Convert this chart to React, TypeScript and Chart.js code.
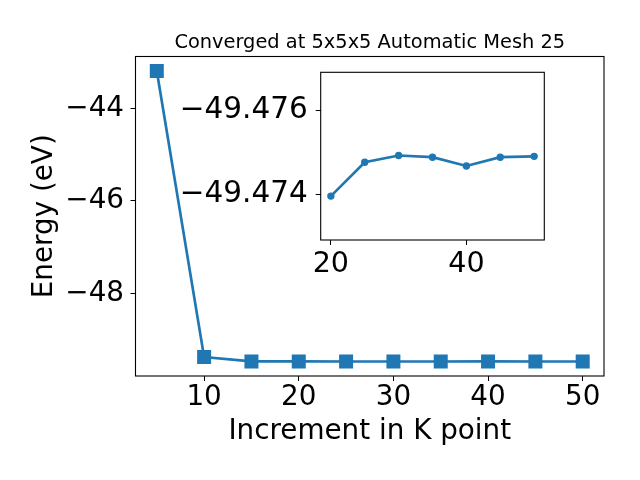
import { useEffect, useRef } from 'react';
import { Chart, registerables } from 'chart.js';

Chart.register(...registerables);

const kPoints = [5, 10, 15, 20, 25, 30, 35, 40, 45, 50];
const energies = [-43.19, -49.38, -49.4745, -49.47396, -49.47477, -49.47493, -49.47489, -49.47468, -49.47489, -49.47491];
const insetK = [20, 25, 30, 35, 40, 45, 50];
const insetEnergies = [-49.47396, -49.47477, -49.47493, -49.47489, -49.47468, -49.47489, -49.47491];
const mainXTicks = [10, 20, 30, 40, 50];
const mainYTicks = [-44, -46, -48];
const insetXTicks = [20, 40];
const insetYTicks = [-49.476, -49.474];
const titleText = 'Converged at 5x5x5 Automatic Mesh 25';
const xLabel = 'Increment in K point';
const yLabel = 'Energy (eV)';

const FONT = 'DejaVu Sans';
const BLUE = '#1f77b4';

const fmt = (v: number, d: number) => (v < 0 ? '\u2212' : '') + Math.abs(v).toFixed(d);

const framePlugin = {
  id: 'frame',
  beforeDatasetsDraw(chart: any) {
    const { ctx, chartArea: a } = chart;
    ctx.save();
    ctx.strokeStyle = '#000';
    ctx.lineWidth = 1.1;
    ctx.strokeRect(a.left, a.top, a.right - a.left, a.bottom - a.top);
    ctx.restore();
  },
};

const bgPlugin = {
  id: 'insetbg',
  beforeDraw(chart: any) {
    const { ctx, chartArea: a } = chart;
    ctx.save();
    ctx.fillStyle = '#fff';
    ctx.fillRect(a.left, a.top, a.right - a.left, a.bottom - a.top);
    ctx.restore();
  },
};

const titlePlugin = {
  id: 'mtitle',
  afterDraw(chart: any) {
    const { ctx, chartArea: a } = chart;
    ctx.save();
    ctx.fillStyle = '#000';
    ctx.font = `19.4px "${FONT}"`;
    ctx.textAlign = 'center';
    ctx.textBaseline = 'alphabetic';
    ctx.fillText(titleText, (a.left + a.right) / 2, 48.3);
    ctx.restore();
  },
};

const whiteBg = {
  id: 'whitebg',
  beforeDraw(chart: any) {
    const { ctx, width, height } = chart;
    ctx.save();
    ctx.fillStyle = '#fff';
    ctx.fillRect(0, 0, width, height);
    ctx.restore();
  },
};

export default function App() {
  const mainRef = useRef<HTMLCanvasElement>(null);
  const insetRef = useRef<HTMLCanvasElement>(null);

  useEffect(() => {
    document.body.style.margin = '0';
    const tickFont = { family: FONT, size: 27.8, lineHeight: 1 };
    const insetYFont = { family: FONT, size: 29.5, lineHeight: 1 };
    const insetXFont = { family: FONT, size: 28.6, lineHeight: 1 };
    const gridOpts = {
      display: true,
      drawOnChartArea: false,
      drawTicks: true,
      tickLength: 5,
      tickWidth: 1,
      tickColor: '#000',
      color: '#000',
    };

    const main = new Chart(mainRef.current!, {
      type: 'line',
      data: {
        datasets: [
          {
            data: kPoints.map((k, i) => ({ x: k, y: energies[i] })),
            borderColor: BLUE,
            backgroundColor: BLUE,
            borderWidth: 2.7,
            pointStyle: 'rect',
            pointRadius: 9.9,
            pointBorderWidth: 0,
            pointBackgroundColor: BLUE,
            tension: 0,
          },
        ],
      },
      options: {
        animation: false,
        responsive: false,
        devicePixelRatio: 1,
        layout: { padding: { top: 56.5, right: 36, bottom: 0, left: 0 } },
        plugins: { legend: { display: false }, tooltip: { enabled: false }, title: { display: false } },
        scales: {
          x: {
            type: 'linear',
            min: 2.75,
            max: 52.25,
            grid: gridOpts,
            border: { display: false },
            afterBuildTicks: (s: any) => { s.ticks = mainXTicks.map((v) => ({ value: v })); },
            afterFit: (s: any) => { s.height = 104; },
            ticks: { color: '#000', font: tickFont, padding: 2.8, maxRotation: 0, callback: (v: any) => fmt(Number(v), 0) },
            title: { display: true, text: xLabel, color: '#000', font: tickFont, padding: { top: 0, bottom: 34.4 } },
          },
          y: {
            type: 'linear',
            min: -49.789,
            max: -42.876,
            grid: gridOpts,
            border: { display: false },
            afterBuildTicks: (s: any) => { s.ticks = mainYTicks.map((v) => ({ value: v })); },
            afterFit: (s: any) => { s.width = 135.5; },
            ticks: { color: '#000', font: tickFont, padding: 6.5, callback: (v: any) => fmt(Number(v), 0) },
            title: { display: true, text: yLabel, color: '#000', font: tickFont, padding: { top: 31.1, bottom: 0 } },
          },
        },
      } as any,
      plugins: [whiteBg, framePlugin, titlePlugin],
    });

    const inset = new Chart(insetRef.current!, {
      type: 'line',
      data: {
        datasets: [
          {
            data: insetK.map((k, i) => ({ x: k, y: insetEnergies[i] })),
            borderColor: BLUE,
            backgroundColor: BLUE,
            borderWidth: 2.7,
            pointStyle: 'circle',
            pointRadius: 3.7,
            pointBorderWidth: 0,
            pointBackgroundColor: BLUE,
            tension: 0,
          },
        ],
      },
      options: {
        animation: false,
        responsive: false,
        devicePixelRatio: 1,
        layout: { padding: { top: 72.3, right: 95.7, bottom: 190, left: 0 } },
        plugins: { legend: { display: false }, tooltip: { enabled: false }, title: { display: false } },
        scales: {
          x: {
            type: 'linear',
            min: 18.5,
            max: 51.5,
            grid: gridOpts,
            border: { display: false },
            afterBuildTicks: (s: any) => { s.ticks = insetXTicks.map((v) => ({ value: v })); },
            afterFit: (s: any) => { s.height = 50; },
            ticks: { color: '#000', font: insetXFont, padding: 5, maxRotation: 0, callback: (v: any) => fmt(Number(v), 0) },
          },
          y: {
            type: 'linear',
            reverse: true,
            min: -49.47692,
            max: -49.47291,
            grid: gridOpts,
            border: { display: false },
            afterBuildTicks: (s: any) => { s.ticks = insetYTicks.map((v) => ({ value: v })); },
            afterFit: (s: any) => { s.width = 320.7; },
            ticks: { color: '#000', font: insetYFont, padding: 8, callback: (v: any) => fmt(Number(v), 3) },
          },
        },
      } as any,
      plugins: [bgPlugin, framePlugin],
    });

    return () => {
      main.destroy();
      inset.destroy();
    };
  }, []);

  return (
    <div style={{ position: 'absolute', left: 0, top: 0, width: 640, height: 480 }}>
      <canvas ref={mainRef} width={640} height={480} style={{ position: 'absolute', left: 0, top: 0 }} />
      <canvas ref={insetRef} width={640} height={480} style={{ position: 'absolute', left: 0, top: 0 }} />
    </div>
  );
}
